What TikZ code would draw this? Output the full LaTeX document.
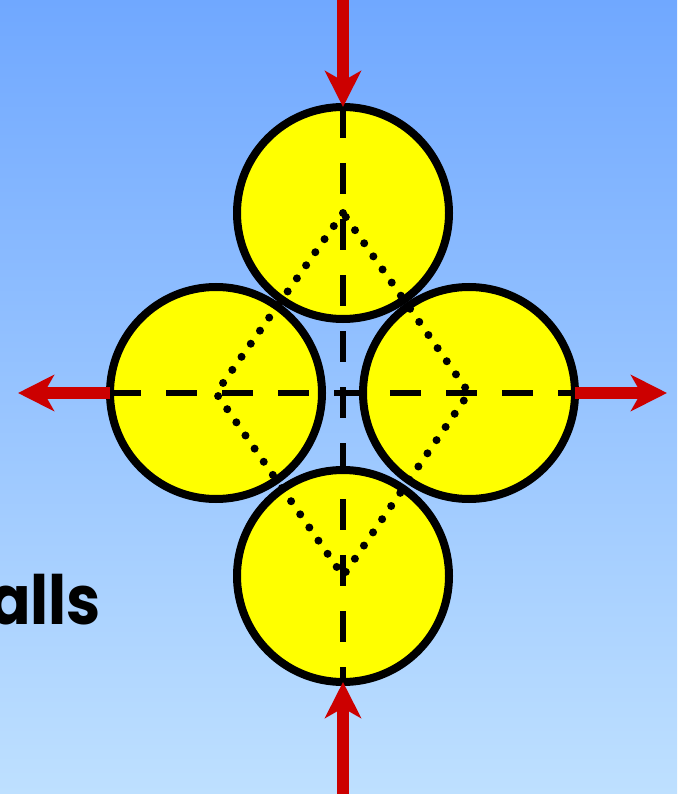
\documentclass[tikz,border=0pt]{standalone}
\usepackage{fontspec}
\newfontfamily\comicfont{Poppins}
\usetikzlibrary{arrows.meta}
\definecolor{himmeloben}{RGB}{112,168,255}
\definecolor{himmelunten}{RGB}{190,224,255}
\definecolor{pfeilrot}{RGB}{204,0,0}
\definecolor{kugelgelb}{RGB}{255,255,0}
\begin{document}
\begin{tikzpicture}[
      x=1pt, y=-1pt,
      kugel/.style={circle, draw=black, fill=kugelgelb, line width=8pt, minimum size=212pt, inner sep=0pt, outer sep=0pt},
      schnitt/.style={line width=6pt, dash pattern=on 31pt off 25pt},
      raute/.style={line width=8pt, line cap=round, dash pattern=on 0pt off 16pt},
      druck/.style={pfeilrot, line width=12pt, -{Stealth[length=36pt, width=36pt, inset=10pt]}}
    ]
      \useasboundingbox (0,0) rectangle (677,794);
      \shade[top color=himmeloben, bottom color=himmelunten] (0,0) rectangle (677,794);
      \node[font=\comicfont\bfseries\fontsize{68}{68}\selectfont, anchor=base east, inner sep=0pt, xscale=0.9] (wand) at (101,624) {walls};
      \node[kugel] (oben) at (343,213) {};
      \node[kugel] (links) at (216,393) {};
      \node[kugel] (rechts) at (469,393) {};
      \node[kugel] (unten) at (343,576) {};
      \draw[schnitt] (oben.north) -- (unten.south);
      \draw[schnitt] (links.west) -- (rechts.east);
      \draw[raute] (oben.center) -- (links.center) -- (unten.center) -- (rechts.center) -- cycle;
      \coordinate (einoben) at (343,0);
      \coordinate (einunten) at (343,794);
      \coordinate (auslinks) at (18,393);
      \coordinate (ausrechts) at (667,393);
      \draw[druck] (einoben) -- (oben.north);
      \draw[druck] (einunten) -- (unten.south);
      \draw[druck] (links.west) -- (auslinks);
      \draw[druck] (rechts.east) -- (ausrechts);
    \end{tikzpicture}
\end{document}
